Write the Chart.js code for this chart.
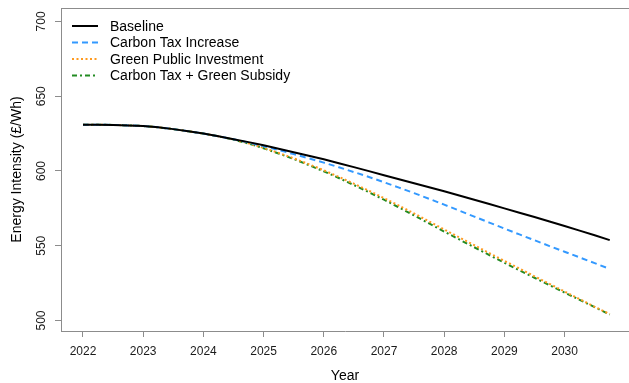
<!DOCTYPE html>
<html>
<head>
<meta charset="utf-8">
<script src="https://cdn.jsdelivr.net/npm/chart.js@4/dist/chart.umd.min.js"></script>
<style>
  html, body { margin: 0; padding: 0; background: #fff; }
  #wrap { width: 629px; height: 383px; }
</style>
</head>
<body>
<div id="wrap"><canvas id="chart" width="629" height="383"></canvas></div>
<script>
// quarterly time points
const quarters = [
  2022.00, 2022.25, 2022.50, 2022.75, 2023.00, 2023.25, 2023.50, 2023.75,
  2024.00, 2024.25, 2024.50, 2024.75, 2025.00, 2025.25, 2025.50, 2025.75,
  2026.00, 2026.25, 2026.50, 2026.75, 2027.00, 2027.25, 2027.50, 2027.75,
  2028.00, 2028.25, 2028.50, 2028.75, 2029.00, 2029.25, 2029.50, 2029.75,
  2030.00, 2030.25, 2030.50, 2030.75
];

const baseline = [
  631.0, 631.0, 630.8, 630.5, 630.1, 629.2, 628.0, 626.6,
  625.0, 623.2, 621.3, 619.3, 617.2, 614.9, 612.6, 610.2,
  607.8, 605.2, 602.6, 599.9, 597.2, 594.5, 591.8, 589.1,
  586.4, 583.6, 580.8, 577.9, 575.0, 572.1, 569.2, 566.2,
  563.2, 560.1, 557.0, 553.8
];

const carbonTax = [
  631.0, 631.0, 630.8, 630.5, 630.1, 629.2, 628.0, 626.6,
  625.0, 623.2, 621.2, 619.0, 616.6, 614.0, 611.3, 608.5,
  605.6, 602.5, 599.3, 596.0, 592.5, 588.9, 585.2, 581.4,
  577.5, 573.5, 569.5, 565.5, 561.5, 557.6, 553.7, 549.8,
  546.0, 542.2, 538.4, 534.5
];

const greenInvest = [
  631.0, 631.0, 630.8, 630.5, 630.1, 629.2, 628.0, 626.6,
  625.0, 623.2, 621.1, 618.5, 615.5, 612.1, 608.5, 604.6,
  600.5, 596.1, 591.5, 586.8, 581.9, 576.8, 571.6, 566.3,
  560.9, 555.6, 550.4, 545.1, 539.9, 534.8, 529.6, 524.5,
  519.4, 514.3, 509.2, 504.3
];

const taxSubsidy = [
  631.0, 631.0, 630.8, 630.5, 630.1, 629.2, 628.0, 626.6,
  625.0, 623.2, 621.0, 618.3, 615.2, 611.7, 608.0, 604.0,
  599.8, 595.3, 590.6, 585.8, 580.8, 575.6, 570.3, 564.9,
  559.5, 554.2, 549.0, 543.8, 538.6, 533.6, 528.6, 523.6,
  518.7, 513.8, 508.9, 504.0
];

const xTicks = [2022, 2023, 2024, 2025, 2026, 2027, 2028, 2029, 2030];
const yTicks = [500, 550, 600, 650, 700];

const FONT = '"Liberation Sans", Arial, sans-serif';
const AXIS_GREY = '#8c8c8c';

const toPoints = (vals) => vals.map((v, i) => ({ x: quarters[i], y: v }));

const series = [
  { label: 'Baseline', data: baseline, color: '#000000', dash: [] },
  { label: 'Carbon Tax Increase', data: carbonTax, color: '#3399ff', dash: [6, 4] },
  { label: 'Green Public Investment', data: greenInvest, color: '#ff9a1f', dash: [2, 2.5] },
  { label: 'Carbon Tax + Green Subsidy', data: taxSubsidy, color: '#228b22', dash: [5, 3, 2, 3] }
];

// R-style box, rotated tick labels, titles and legend
const rStylePlugin = {
  id: 'rStyle',
  afterDraw(chart) {
    const ctx = chart.ctx;
    const area = chart.chartArea;
    const xs = chart.scales.x;
    const ys = chart.scales.y;

    ctx.save();
    // top edge of box
    ctx.strokeStyle = AXIS_GREY;
    ctx.lineWidth = 1;
    ctx.beginPath();
    ctx.moveTo(area.left, Math.round(area.top) + 0.5);
    ctx.lineTo(chart.width, Math.round(area.top) + 0.5);
    ctx.stroke();

    ctx.fillStyle = '#1a1a1a';
    // x tick labels
    ctx.font = '12px ' + FONT;
    ctx.textAlign = 'center';
    ctx.textBaseline = 'middle';
    xTicks.forEach(t => ctx.fillText(String(t), xs.getPixelForValue(t), 352));

    // y tick labels (vertical)
    yTicks.forEach(t => {
      ctx.save();
      ctx.translate(42, ys.getPixelForValue(t));
      ctx.rotate(-Math.PI / 2);
      ctx.fillText(String(t), 0, 0);
      ctx.restore();
    });

    // axis titles
    ctx.fillStyle = '#000';
    ctx.font = '14px ' + FONT;
    ctx.fillText('Year', (area.left + area.right) / 2, 376);
    ctx.save();
    ctx.translate(17, (area.top + area.bottom) / 2);
    ctx.rotate(-Math.PI / 2);
    ctx.fillText('Energy Intensity (£/Wh)', 0, 0);
    ctx.restore();

    // legend
    ctx.textAlign = 'left';
    series.forEach((s, i) => {
      const y = 26 + i * 16.5;
      ctx.strokeStyle = s.color;
      ctx.lineWidth = 2;
      ctx.setLineDash(s.dash);
      ctx.beginPath();
      ctx.moveTo(72, y);
      ctx.lineTo(98, y);
      ctx.stroke();
      ctx.setLineDash([]);
      ctx.fillStyle = '#000';
      ctx.fillText(s.label, 110, y + 1);
    });
    ctx.restore();
  }
};

new Chart(document.getElementById('chart').getContext('2d'), {
  type: 'line',
  data: {
    datasets: series.map(s => ({
      label: s.label,
      data: toPoints(s.data),
      borderColor: s.color,
      backgroundColor: s.color,
      borderWidth: 2,
      borderDash: s.dash,
      pointRadius: 0,
      tension: 0,
      fill: false
    }))
  },
  options: {
    responsive: false,
    animation: false,
    layout: { padding: { top: 8, left: 0, right: 0, bottom: 0 } },
    plugins: {
      legend: { display: false },
      tooltip: { enabled: false }
    },
    scales: {
      x: {
        type: 'linear',
        min: 2021.635,
        max: 2031.07,
        afterBuildTicks: (scale) => { scale.ticks = xTicks.map(v => ({ value: v })); },
        afterFit: (scale) => { scale.height = 52; },
        ticks: { display: false },
        grid: { drawOnChartArea: false, drawTicks: true, tickLength: 6, color: AXIS_GREY },
        border: { display: true, color: AXIS_GREY, width: 1 }
      },
      y: {
        type: 'linear',
        min: 493,
        max: 709,
        afterBuildTicks: (scale) => { scale.ticks = yTicks.map(v => ({ value: v })); },
        afterFit: (scale) => { scale.width = 61; },
        ticks: { display: false },
        grid: { drawOnChartArea: false, drawTicks: true, tickLength: 6, color: AXIS_GREY },
        border: { display: true, color: AXIS_GREY, width: 1 }
      }
    }
  },
  plugins: [rStylePlugin]
});
</script>
</body>
</html>
